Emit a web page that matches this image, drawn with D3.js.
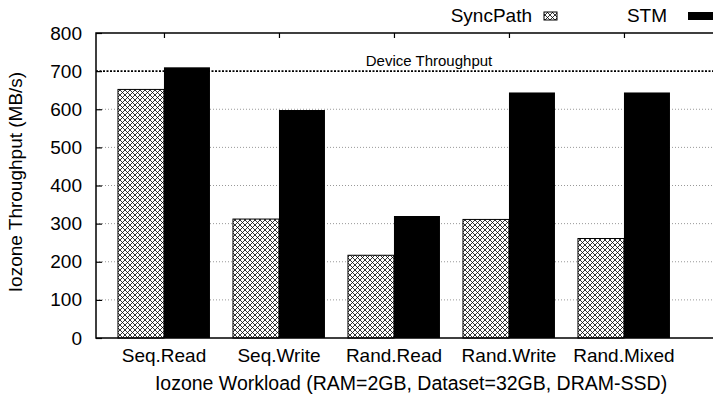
<!DOCTYPE html>
<html>
<head>
<meta charset="utf-8">
<script src="https://cdn.jsdelivr.net/npm/d3@7"></script>
<style>
  body { margin: 0; background: #fff; }
  svg { display: block; font-family: "Liberation Sans", Arial, sans-serif; }
</style>
</head>
<body>
<div id="chart"></div>
<script>
// workloads on the x axis
var categories = ["Seq.Read", "Seq.Write", "Rand.Read", "Rand.Write", "Rand.Mixed"];
// throughput values (MB/s)
var syncpath = [652, 312, 217, 311, 261];
var stm = [710, 598, 320, 644, 644];
var yTicks = [0, 100, 200, 300, 400, 500, 600, 700, 800];
var deviceThroughput = 700;

var W = 713, H = 399;
var mLeft = 96, mTop = 33, mBottom = 338;

var svg = d3.select("#chart").append("svg")
    .attr("width", W)
    .attr("height", H);

// cross hatch for SyncPath
var hp = 5;
var pat = svg.append("defs").append("pattern")
    .attr("id", "xhatch")
    .attr("patternUnits", "userSpaceOnUse")
    .attr("width", hp)
    .attr("height", hp);
pat.append("rect").attr("width", hp).attr("height", hp).attr("fill", "#fff");
pat.append("path")
    .attr("d", "M0,0 L" + hp + "," + hp + " M0," + hp + " L" + hp + ",0")
    .attr("stroke", "#000")
    .attr("stroke-width", 0.8)
    .attr("stroke-linecap", "square");

// category index -> pixel
var x = d3.scaleLinear()
    .domain([-0.591, 4.87])
    .range([mLeft, mLeft + 5.461 * 115]);
var y = d3.scaleLinear()
    .domain([0, 800])
    .range([mBottom, mTop]);

var barW = 0.4;

// grid lines
svg.append("g")
    .selectAll("line")
    .data(yTicks.filter(function (d) { return d > 0 && d < 800 && d != deviceThroughput; }))
    .enter().append("line")
    .attr("x1", mLeft).attr("x2", W)
    .attr("y1", function (d) { return y(d); })
    .attr("y2", function (d) { return y(d); })
    .attr("stroke", "#999")
    .attr("stroke-width", 1)
    .attr("stroke-dasharray", "1,2");

// device throughput line
svg.append("line")
    .attr("x1", mLeft).attr("x2", W)
    .attr("y1", y(deviceThroughput)).attr("y2", y(deviceThroughput))
    .attr("stroke", "#000")
    .attr("stroke-width", 1.6)
    .attr("stroke-dasharray", "2,1.5");

svg.append("text")
    .attr("x", 429)
    .attr("y", y(deviceThroughput) - 5)
    .attr("text-anchor", "middle")
    .attr("font-size", 15)
    .text("Device Throughput");

// bars
svg.append("g").selectAll("rect")
    .data(syncpath)
    .enter().append("rect")
    .attr("x", function (d, i) { return x(i - barW); })
    .attr("width", x(barW) - x(0))
    .attr("y", function (d) { return y(d); })
    .attr("height", function (d) { return y(0) - y(d); })
    .attr("fill", "url(#xhatch)")
    .attr("stroke", "#000")
    .attr("stroke-width", 1);

svg.append("g").selectAll("rect")
    .data(stm)
    .enter().append("rect")
    .attr("x", function (d, i) { return x(i); })
    .attr("width", x(barW) - x(0))
    .attr("y", function (d) { return y(d); })
    .attr("height", function (d) { return y(0) - y(d); })
    .attr("fill", "#000");

// frame
svg.append("path")
    .attr("d", "M" + W + "," + mTop + " L" + mLeft + "," + mTop + " L" + mLeft + "," + mBottom + " L" + W + "," + mBottom)
    .attr("fill", "none")
    .attr("stroke", "#000")
    .attr("stroke-width", 1.5);

// y axis
var yAxis = svg.append("g")
    .attr("transform", "translate(" + mLeft + ",0)")
    .call(d3.axisRight(y).tickValues(yTicks).tickSize(6).tickFormat(""));
yAxis.select(".domain").remove();
yAxis.selectAll("line").attr("stroke-width", 1.2);

svg.append("g").selectAll("text")
    .data(yTicks)
    .enter().append("text")
    .attr("x", mLeft - 14)
    .attr("y", function (d) { return y(d) + 6.5; })
    .attr("text-anchor", "end")
    .attr("font-size", 19)
    .text(function (d) { return d; });

// top mirror ticks
var topAxis = svg.append("g")
    .attr("transform", "translate(0," + mTop + ")")
    .call(d3.axisBottom(x).tickValues(d3.range(categories.length)).tickSize(5).tickFormat(""));
topAxis.select(".domain").remove();
topAxis.selectAll("line").attr("stroke-width", 1.2);

// x labels
svg.append("g").selectAll("text")
    .data(categories)
    .enter().append("text")
    .attr("x", function (d, i) { return x(i); })
    .attr("y", 362)
    .attr("text-anchor", "middle")
    .attr("font-size", 19)
    .text(function (d) { return d; });

svg.append("text")
    .attr("x", 411)
    .attr("y", 390)
    .attr("text-anchor", "middle")
    .attr("font-size", 19.5)
    .text("Iozone Workload (RAM=2GB, Dataset=32GB, DRAM-SSD)");

svg.append("text")
    .attr("transform", "translate(21.5,182) rotate(-90)")
    .attr("text-anchor", "middle")
    .attr("font-size", 19)
    .text("Iozone Throughput (MB/s)");

// legend
svg.append("text")
    .attr("x", 532).attr("y", 22)
    .attr("text-anchor", "end")
    .attr("font-size", 19)
    .text("SyncPath");
svg.append("rect")
    .attr("x", 544).attr("y", 12).attr("width", 13).attr("height", 8)
    .attr("fill", "url(#xhatch)").attr("stroke", "#000").attr("stroke-width", 1);
svg.append("text")
    .attr("x", 667).attr("y", 22)
    .attr("text-anchor", "end")
    .attr("font-size", 19)
    .text("STM");
svg.append("rect")
    .attr("x", 688).attr("y", 12).attr("width", 26).attr("height", 8)
    .attr("fill", "#000");
</script>
</body>
</html>
